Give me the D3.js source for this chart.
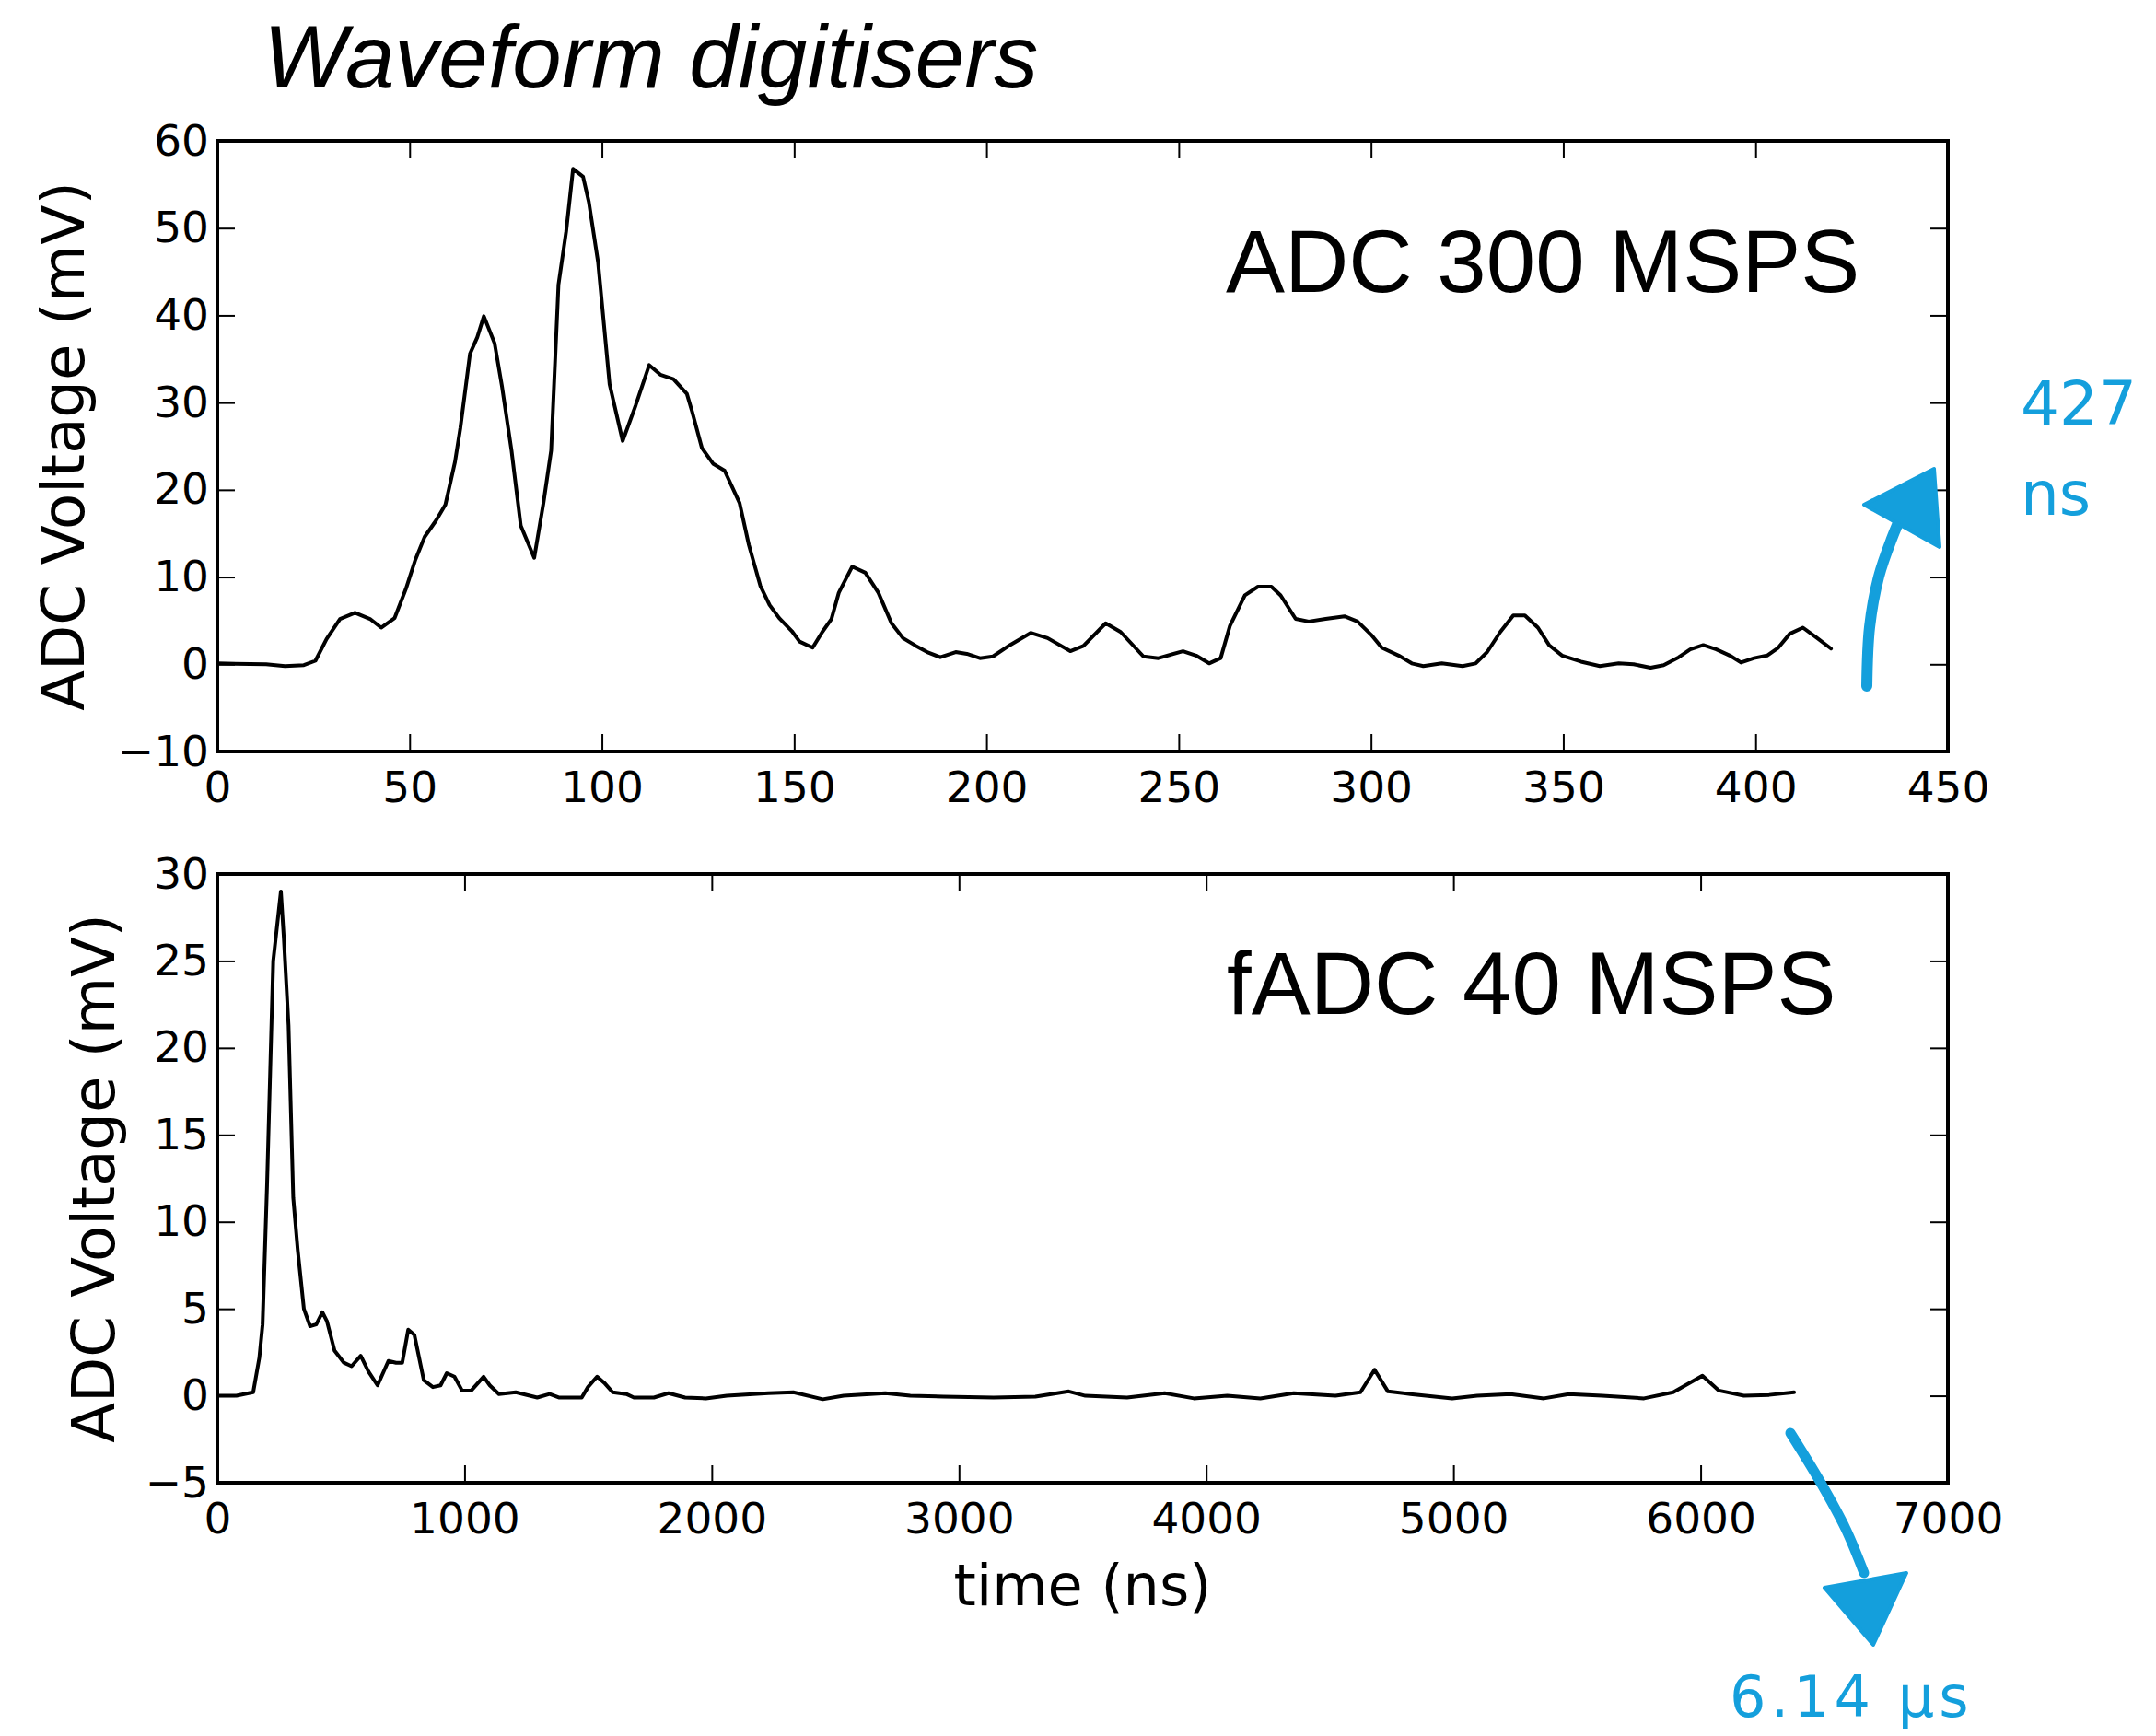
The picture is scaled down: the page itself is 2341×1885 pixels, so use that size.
<!DOCTYPE html>
<html>
<head>
<meta charset="utf-8">
<script src="https://cdn.jsdelivr.net/npm/d3@7"></script>
<style>
  html, body { margin: 0; padding: 0; background: #ffffff; }
  svg { display: block; }
</style>
</head>
<body>
<svg id="chart"></svg>
<script>
// ADC 300 MSPS waveform: time (ns) and voltage (mV)
const adcTime = [0, 12.7, 17.6, 22.5, 25.5, 28.4, 31.9, 35.8, 39.7, 42.6, 46.1, 49, 51.5, 53.9, 56.9, 59.3,
  61.8, 63.2, 65.7, 67.6, 69.3, 72.1, 74, 76.5, 78.9, 82.4, 84.8, 86.8, 88.7, 90.7, 92.5, 95.1, 96.6, 99,
  102, 105.4, 108.8, 112.3, 115.2, 118.6, 122.1, 123.5, 126, 128.9, 131.9, 135.8, 138.2, 141.2, 143.6,
  146.1, 149.4, 151.4, 154.8, 157.3, 159.7, 161.6, 165.1, 168.5, 171.9, 175.3, 178.3, 181.7, 184.6, 188,
  192, 194.9, 198.3, 201.7, 206.1, 211.5, 215.9, 221.8, 225.2, 231, 234.9, 240.8, 244.7, 251.1, 254.5,
  257.9, 260.9, 263.3, 267.2, 270.6, 274.1, 276.5, 280.4, 283.8, 288.2, 293.1, 296.5, 300, 302.8, 307.2,
  310.6, 313.6, 318.4, 323.8, 327.2, 330.2, 333.6, 337, 340, 343.4, 346.3, 349.7, 354.6, 359.5, 364.4,
  368.3, 372.7, 376.1, 380, 383, 386.4, 389.8, 393.3, 396.2, 399.6, 403, 405.9, 408.9, 412.3, 415.7, 419.6];
const adcMv = [0.1, 0, -0.2, -0.1, 0.4, 2.9, 5.2, 5.9, 5.2, 4.2, 5.3, 8.6, 12.0, 14.6, 16.5, 18.3,
  23.2, 27.1, 35.6, 37.5, 39.9, 36.8, 31.9, 24.5, 15.9, 12.2, 18.5, 24.5, 43.5, 49.6, 56.8, 55.9, 53, 46.1,
  32.1, 25.6, 29.7, 34.3, 33.2, 32.7, 31, 28.9, 24.8, 23, 22.2, 18.5, 13.7, 9.0, 6.8,
  5.3, 3.8, 2.6, 1.9, 3.7, 5.2, 8.2, 11.2, 10.5, 8.2, 4.7, 3.0, 2.1, 1.4, 0.8,
  1.4, 1.2, 0.7, 0.9, 2.2, 3.6, 3.0, 1.5, 2.1, 4.7, 3.7, 0.9, 0.7, 1.5, 1.0,
  0.1, 0.7, 4.4, 7.9, 8.9, 8.9, 7.9, 5.2, 4.9, 5.2, 5.5, 4.9, 3.4, 1.9, 1.0,
  0.1, -0.2, 0.1, -0.2, 0.1, 1.4, 3.7, 5.6, 5.6, 4.2, 2.2, 1.0, 0.3, -0.2, 0.1,
  0, -0.4, -0.1, 0.8, 1.7, 2.2, 1.7, 1.0, 0.2, 0.7, 1.0, 1.9, 3.5, 4.2, 3.1, 1.8];

// fADC 40 MSPS waveform: time (ns) and voltage (mV)
const fadcTime = [0, 77, 145, 170, 183, 201, 226, 257, 269, 288, 307, 325, 350, 375, 400, 425, 443, 474,
  512, 543, 580, 611, 648, 692, 723, 748, 772, 797, 835, 872, 903, 928, 959, 990, 1027, 1077, 1102, 1139,
  1207, 1294, 1344, 1381, 1474, 1499, 1536, 1568, 1599, 1654, 1685, 1766, 1825, 1892, 1976, 2061, 2229,
  2330, 2449, 2533, 2702, 2803, 2938, 3140, 3309, 3444, 3511, 3680, 3832, 3950, 4085, 4219, 4354, 4523,
  4624, 4681, 4735, 4826, 4995, 5096, 5231, 5366, 5467, 5602, 5771, 5889, 6007, 6074, 6175, 6277, 6378];
const fadcMv = [0, 0, 0.2, 2.2, 4.1, 12.1, 25, 29.0, 26.3, 21.3, 11.4, 8.4, 5.0, 4.0, 4.1, 4.8, 4.3, 2.6,
  1.9, 1.7, 2.3, 1.4, 0.6, 2.0, 1.9, 1.9, 3.8, 3.5, 0.9, 0.5, 0.6, 1.3, 1.1, 0.3, 0.3, 1.1, 0.6, 0.1,
  0.2, -0.1, 0.1, -0.1, -0.1, 0.5, 1.1, 0.7, 0.2, 0.1, -0.1, -0.1, 0.15, -0.1, -0.15, 0, 0.15,
  0.2, -0.2, 0, 0.15, 0, -0.05, -0.1, -0.05, 0.25, 0, -0.1, 0.15, -0.15, 0, -0.15, 0.15, 0,
  0.2, 1.5, 0.25, 0.1, -0.15, 0, 0.1, -0.15, 0.1, 0, -0.15, 0.2, 1.15, 0.3, 0, 0.05, 0.2];

// Tick values
const adcXTicks = [0, 50, 100, 150, 200, 250, 300, 350, 400, 450];
const adcYTicks = [-10, 0, 10, 20, 30, 40, 50, 60];
const fadcXTicks = [0, 1000, 2000, 3000, 4000, 5000, 6000, 7000];
const fadcYTicks = [-5, 0, 5, 10, 15, 20, 25, 30];

// Labels
const titleText = "Waveform digitisers";
const yLabelText = "ADC Voltage (mV)";
const xLabelText = "time (ns)";
const adcName = "ADC 300 MSPS";
const fadcName = "fADC 40 MSPS";
const topNote = ["427", "ns"];
const bottomNote = "6.14 μs";

const W = 2341, H = 1885;
const BLUE = "#149fdc";
const TICK_FONT = "'DejaVu Sans', sans-serif";
const TEXT_FONT = "'Liberation Sans', Arial, sans-serif";
const intFormat = d3.format("d");

const svg = d3.select("#chart").attr("width", W).attr("height", H);
svg.append("rect").attr("width", W).attr("height", H).attr("fill", "#fff");

// Title
svg.append("text")
  .attr("x", 286).attr("y", 95)
  .attr("font-family", TEXT_FONT).attr("font-style", "italic")
  .attr("font-size", 96).attr("fill", "#000")
  .text(titleText);

function drawPanel(cfg) {
  const x = d3.scaleLinear().domain(cfg.xDomain).range([cfg.left, cfg.right]);
  const y = d3.scaleLinear().domain(cfg.yDomain).range([cfg.bottom, cfg.top]);
  const g = svg.append("g");
  const tickLen = 19;

  // Data trace
  const pts = cfg.t.map((t, i) => [t, cfg.v[i]]);
  g.append("path")
    .datum(pts)
    .attr("fill", "none")
    .attr("stroke", "#000")
    .attr("stroke-width", 4)
    .attr("stroke-linejoin", "round")
    .attr("stroke-linecap", "round")
    .attr("d", d3.line().x(d => x(d[0])).y(d => y(d[1])));

  const style = sel => {
    sel.select(".domain").remove();
    sel.selectAll(".tick line").attr("stroke", "#000").attr("stroke-width", 2);
    sel.selectAll(".tick text").attr("font-family", TICK_FONT).attr("font-size", 47).attr("fill", "#000");
  };

  g.append("g").attr("transform", `translate(0,${cfg.bottom})`)
    .call(d3.axisBottom(x).tickValues(cfg.xTicks).tickFormat(intFormat)
      .tickSizeInner(-tickLen).tickSizeOuter(0).tickPadding(22))
    .call(style);
  g.append("g").attr("transform", `translate(0,${cfg.top})`)
    .call(d3.axisTop(x).tickValues(cfg.xTicks).tickSizeInner(-tickLen).tickSizeOuter(0).tickFormat(""))
    .call(style);
  g.append("g").attr("transform", `translate(${cfg.left},0)`)
    .call(d3.axisLeft(y).tickValues(cfg.yTicks).tickFormat(intFormat)
      .tickSizeInner(-tickLen).tickSizeOuter(0).tickPadding(9))
    .call(style);
  g.append("g").attr("transform", `translate(${cfg.right},0)`)
    .call(d3.axisRight(y).tickValues(cfg.yTicks).tickSizeInner(-tickLen).tickSizeOuter(0).tickFormat(""))
    .call(style);

  // Frame
  g.append("rect")
    .attr("x", cfg.left).attr("y", cfg.top)
    .attr("width", cfg.right - cfg.left).attr("height", cfg.bottom - cfg.top)
    .attr("fill", "none").attr("stroke", "#000").attr("stroke-width", 4);

  // Y label
  g.append("text")
    .attr("transform", `translate(${cfg.yLabelX},${(cfg.top + cfg.bottom) / 2}) rotate(-90)`)
    .attr("text-anchor", "middle")
    .attr("font-family", TICK_FONT).attr("font-size", 64).attr("fill", "#000")
    .text(yLabelText);

  // Panel name
  g.append("text")
    .attr("x", cfg.nameX).attr("y", cfg.nameY)
    .attr("font-family", TEXT_FONT).attr("font-size", 96).attr("fill", "#000")
    .text(cfg.name);

  return { x, y, g };
}

drawPanel({
  left: 236, right: 2115, top: 153, bottom: 816,
  xDomain: [0, 450], yDomain: [-10, 60],
  xTicks: adcXTicks, yTicks: adcYTicks,
  t: adcTime, v: adcMv,
  yLabelX: 91, name: adcName, nameX: 1331, nameY: 317
});

drawPanel({
  left: 236, right: 2115, top: 949, bottom: 1610,
  xDomain: [0, 7000], yDomain: [-5, 30],
  xTicks: fadcXTicks, yTicks: fadcYTicks,
  t: fadcTime, v: fadcMv,
  yLabelX: 124, name: fadcName, nameX: 1332, nameY: 1101
});

// X axis label
svg.append("text")
  .attr("x", (236 + 2115) / 2).attr("y", 1743)
  .attr("text-anchor", "middle")
  .attr("font-family", TICK_FONT).attr("font-size", 62).attr("fill", "#000")
  .text(xLabelText);

// Hand-drawn style annotations
const ann = svg.append("g").attr("fill", BLUE).attr("stroke", BLUE);
const curve = d3.line().curve(d3.curveCatmullRom);

// Upward arrow next to the top trace end
ann.append("path")
  .attr("d", curve([[2027, 745], [2030, 681], [2040, 626], [2054, 585], [2068, 552]]))
  .attr("fill", "none").attr("stroke-width", 12).attr("stroke-linecap", "round");
ann.append("path")
  .attr("d", "M2024,548 L2100,509 L2106,594 Z")
  .attr("stroke-width", 4).attr("stroke-linejoin", "round");
ann.append("text")
  .attr("x", 2194).attr("y", 461).attr("stroke", "none")
  .attr("font-family", TICK_FONT).attr("font-size", 66)
  .text(topNote[0]);
ann.append("text")
  .attr("x", 2194).attr("y", 559).attr("stroke", "none")
  .attr("font-family", TICK_FONT).attr("font-size", 66)
  .text(topNote[1]);

// Downward arrow below the bottom trace end
ann.append("path")
  .attr("d", curve([[1944, 1556], [1977, 1610], [2004, 1660], [2024, 1708]]))
  .attr("fill", "none").attr("stroke-width", 11).attr("stroke-linecap", "round");
ann.append("path")
  .attr("d", "M1981,1724 L2070,1708 L2034,1786 Z")
  .attr("stroke-width", 4).attr("stroke-linejoin", "round");
ann.append("text")
  .attr("x", 1878).attr("y", 1864).attr("stroke", "none")
  .attr("font-family", TICK_FONT).attr("font-size", 62)
  .attr("letter-spacing", 5)
  .text(bottomNote);
</script>
</body>
</html>
